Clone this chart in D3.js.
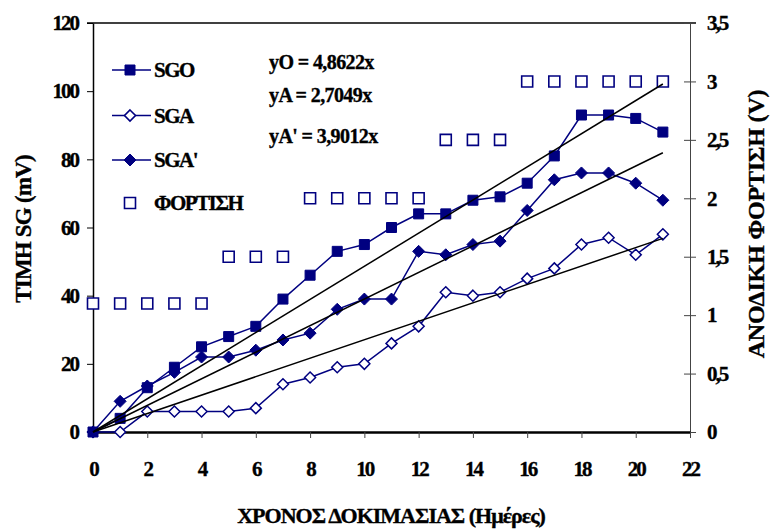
<!DOCTYPE html>
<html>
<head>
<meta charset="utf-8">
<script src="https://cdn.jsdelivr.net/npm/d3@7"></script>
<style>
  body { margin: 0; background: #fff; }
  text { font-family: "Liberation Serif", "Times New Roman", serif; font-weight: bold; fill: #000; stroke: #000; stroke-width: 0.35px; }
</style>
</head>
<body>
<div id="chart"></div>
<script>
// days of the test
var days = [0,1,2,3,4,5,6,7,8,9,10,11,12,13,14,15,16,17,18,19,20,21];
// strain gauge readings (mV), left axis
var sgo    = [0,4,13,19,25,28,31,39,46,53,55,60,64,64,68,69,73,81,93,93,92,88];
var sga    = [0,0,6,6,6,6,7,14,16,19,20,26,31,41,40,41,45,48,55,57,52,58];
var sgaP   = [0,9,13.5,17.5,22,22,24,27,29,36,39,39,53,52,55,56,65,74,76,76,73,68];
// anodic charging (V), right axis
var charge = [1.1,1.1,1.1,1.1,1.1,1.5,1.5,1.5,2,2,2,2,2,2.5,2.5,2.5,3,3,3,3,3,3];
// trend line slopes
var slopes = [4.8622, 2.7049, 3.9012];
var slopeLabels = ["yO = 4,8622x", "yA = 2,7049x", "yA' = 3,9012x"];
var xTicks = [0,2,4,6,8,10,12,14,16,18,20,22];
var yLeftTicks = [0,20,40,60,80,100,120];
var yRightTicks = [0,0.5,1,1.5,2,2.5,3,3.5];

var W = 774, H = 531;
var navy = "#000080";

var svg = d3.select("#chart").append("svg")
    .attr("width", W)
    .attr("height", H);

var x = d3.scaleLinear().domain([0, 22]).range([93, 690]);
var yL = d3.scaleLinear().domain([0, 120]).range([432, 23]);
var yR = d3.scaleLinear().domain([0, 3.5]).range([432, 23]);

function comma(d) { return String(d).replace(".", ","); }

// top border
svg.append("line")
    .attr("x1", 87).attr("x2", 696)
    .attr("y1", yL(120)).attr("y2", yL(120))
    .attr("stroke", "#000").attr("stroke-width", 1.5);

// left axis
var gL = svg.append("g")
    .attr("transform", "translate(" + x(0) + ",0)")
    .call(d3.axisLeft(yL).tickValues(yLeftTicks).tickSize(6).tickSizeOuter(0).tickPadding(9));
gL.select(".domain").attr("stroke-width", 1.5);

// right axis
var gR = svg.append("g")
    .attr("transform", "translate(" + x(22) + ",0)")
    .call(d3.axisRight(yR).tickValues(yRightTicks).tickFormat(comma).tickSize(6).tickSizeOuter(0).tickPadding(11));
gR.select(".domain").attr("stroke", "#444").attr("stroke-width", 1);
gR.selectAll(".tick line").attr("x1", -6).attr("x2", 6).attr("stroke", "#444");

// bottom axis
var gB = svg.append("g")
    .attr("transform", "translate(0," + yL(0) + ")")
    .call(d3.axisBottom(x).tickValues(xTicks).tickSize(6).tickSizeOuter(0).tickPadding(23));
gB.select(".domain").attr("stroke-width", 2.5);
gB.selectAll(".tick line").attr("stroke", "#444");

svg.selectAll(".tick text")
    .style("font-size", "21px")
    .style("letter-spacing", "-2px")
    .style("font-family", "'Liberation Serif', serif")
    .style("font-weight", "bold")
    .attr("fill", "#000");

// series lines
function drawLine(vals, yScale) {
    svg.append("path")
        .datum(vals)
        .attr("fill", "none")
        .attr("stroke", navy)
        .attr("stroke-width", 1.5)
        .attr("d", d3.line()
            .x(function(d, i) { return x(days[i]); })
            .y(function(d) { return yScale(d); }));
}
drawLine(sga, yL);
drawLine(sgaP, yL);
drawLine(sgo, yL);

function square(s) { return "M" + (-s) + "," + (-s) + "h" + (2 * s) + "v" + (2 * s) + "h" + (-2 * s) + "Z"; }
function diamond(s) { return "M0," + (-s) + "L" + s + ",0L0," + s + "L" + (-s) + ",0Z"; }

function drawMarkers(vals, yScale, path, fill, sw) {
    svg.append("g").selectAll("path")
        .data(vals)
        .enter()
        .append("path")
        .attr("transform", function(d, i) { return "translate(" + x(days[i]) + "," + yScale(d) + ")"; })
        .attr("d", path)
        .attr("fill", fill)
        .attr("stroke", navy)
        .attr("stroke-width", sw);
}
drawMarkers(charge, yR, square(5.5), "#fff", 1.6);
drawMarkers(sga, yL, diamond(5.5), "#fff", 1.5);
drawMarkers(sgaP, yL, diamond(6), navy, 1);
drawMarkers(sgo, yL, square(5), navy, 1);

// trend lines
svg.append("g").selectAll("line")
    .data(slopes)
    .enter()
    .append("line")
    .attr("x1", x(0)).attr("y1", yL(0))
    .attr("x2", x(21)).attr("y2", function(d) { return yL(d * 21); })
    .attr("stroke", "#000")
    .attr("stroke-width", 1.5);

// equations
var eqY = [69, 102, 143];
svg.append("g").selectAll("text")
    .data(slopeLabels)
    .enter()
    .append("text")
    .attr("x", 269)
    .attr("y", function(d, i) { return eqY[i]; })
    .style("font-size", "20px")
    .style("letter-spacing", "-0.6px")
    .text(function(d) { return d; });

// legend
var legendNames = ["SGO", "SGA", "SGA'", "ΦΟΡΤΙΣΗ"];
var legendY = [70, 115.5, 160, 203];
var legendPaths = [square(5), diamond(5.5), diamond(6), square(5.5)];
var legendFill = [navy, "#fff", navy, "#fff"];
var lg = svg.append("g");
legendNames.forEach(function(name, i) {
    if (i < 3) {
        lg.append("line")
            .attr("x1", 112).attr("x2", 151)
            .attr("y1", legendY[i]).attr("y2", legendY[i])
            .attr("stroke", navy).attr("stroke-width", 1.5);
    }
    lg.append("path")
        .attr("transform", "translate(130," + legendY[i] + ")")
        .attr("d", legendPaths[i])
        .attr("fill", legendFill[i])
        .attr("stroke", navy)
        .attr("stroke-width", i === 1 || i === 3 ? 1.6 : 1);
    lg.append("text")
        .attr("x", 154)
        .attr("y", legendY[i] + 7)
        .style("font-size", "21px")
        .style("letter-spacing", "-1.5px")
        .text(name);
});

// axis titles
svg.append("text")
    .attr("transform", "translate(31,229) rotate(-90)")
    .attr("text-anchor", "middle")
    .style("font-size", "23px")
    .style("letter-spacing", "-0.8px")
    .text("TIMH SG (mV)");

svg.append("text")
    .attr("transform", "translate(764,224) rotate(-90)")
    .attr("text-anchor", "middle")
    .style("font-size", "24px")
    .style("letter-spacing", "-0.2px")
    .text("ΑΝΟΔΙΚΗ ΦΟΡΤΙΣΗ (V)");

svg.append("text")
    .attr("x", 391)
    .attr("y", 523)
    .attr("text-anchor", "middle")
    .style("font-size", "22px")
    .style("letter-spacing", "-1px")
    .text("ΧΡΟΝΟΣ ΔΟΚΙΜΑΣΙΑΣ (Ημέρες)");
</script>
</body>
</html>
